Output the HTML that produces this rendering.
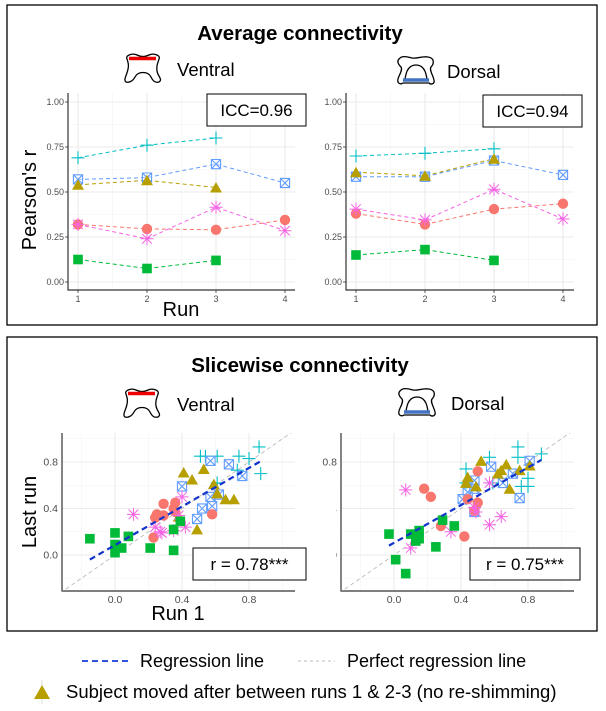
<!DOCTYPE html>
<html><head><meta charset="utf-8"><style>
body{margin:0;background:#fff;}
svg{display:block;font-family:"Liberation Sans",Arial,sans-serif;}
</style></head><body>
<svg id="fig" width="606" height="711" viewBox="0 0 606 711" xmlns="http://www.w3.org/2000/svg">
<defs>
<clipPath id="clipTR"><rect x="320" y="0" width="285" height="330"/></clipPath>
<clipPath id="clipBR"><path d="M317,330H606V630H336V490H317Z"/></clipPath>
<clipPath id="pTL"><rect x="68" y="93" width="227" height="197"/></clipPath>
<clipPath id="pTR"><rect x="346" y="93" width="228" height="197"/></clipPath>
<clipPath id="pBL"><rect x="62" y="433" width="233" height="158"/></clipPath>
<clipPath id="pBR"><rect x="341" y="433" width="233" height="158"/></clipPath>
</defs>
<rect x="7" y="5" width="590" height="320" fill="none" stroke="#000" stroke-width="1.3"/>
<rect x="7" y="337" width="590" height="294" fill="none" stroke="#000" stroke-width="1.3"/>
<text x="300" y="40" text-anchor="middle" font-size="20.5" font-weight="bold">Average connectivity</text>
<text x="300" y="372" text-anchor="middle" font-size="20.5" font-weight="bold">Slicewise connectivity</text>
<g id="icons"></g>
<g id="charts"></g>
<g>
<line x1="82" y1="661" x2="130" y2="661" stroke="#3355dd" stroke-width="2" stroke-dasharray="6,4"/>
<text x="140" y="667" font-size="18">Regression line</text>
<line x1="298" y1="661" x2="335" y2="661" stroke="#bbb" stroke-width="1" stroke-dasharray="3,3"/>
<text x="347" y="667" font-size="18">Perfect regression line</text>
<line x1="42" y1="680" x2="42" y2="704" stroke="#ddd" stroke-width="1"/>
<polygon points="34,699 42,685 50,699" fill="#B79F00"/>
<text x="66" y="698" font-size="18.5">Subject moved after between runs 1 &amp; 2-3 (no re-shimming)</text>
</g>
</svg>
<script>
// ---------- data ----------
const runs = [1, 2, 3, 4];
const groupColors = ["#00BFC4", "#619CFF", "#B79F00", "#F8766D", "#F564E3", "#00BA38"];
const groupShapes = ["plus", "boxx", "tri", "circle", "star", "square"];
const ventralAvg = [
  [0.69, 0.76, 0.80, null],
  [0.57, 0.58, 0.655, 0.55],
  [0.54, 0.565, 0.525, null],
  [0.32, 0.295, 0.29, 0.345],
  [0.32, 0.24, 0.415, 0.285],
  [0.125, 0.075, 0.12, null]
];
const dorsalAvg = [
  [0.70, 0.715, 0.74, null],
  [0.585, 0.585, 0.675, 0.595],
  [0.61, 0.59, 0.685, null],
  [0.38, 0.32, 0.405, 0.435],
  [0.405, 0.345, 0.515, 0.35],
  [0.15, 0.18, 0.12, null]
];
const avgYTicks = [0, 0.25, 0.5, 0.75, 1.0];
const avgYLabels = ["0.00", "0.25", "0.50", "0.75", "1.00"];
const iccLabels = ["ICC=0.96", "ICC=0.94"];

const ventralRun1 = [
  [0.51,0.54,0.61,0.74,0.80,0.86,0.87,0.73,0.61],
  [0.40,0.57,0.68,0.76,0.52,0.58,0.57,0.62,0.49],
  [0.41,0.53,0.46,0.59,0.66,0.71,0.49,0.38,0.61],
  [0.29,0.25,0.24,0.29,0.35,0.36,0.23,0.58,0.36],
  [0.11,0.40,0.24,0.28,0.35,0.42,0.38,0.27],
  [-0.15,0,0,0,0.04,0.08,0.21,0.35,0.39,0.35]
];
const ventralLast = [
  [0.85,0.85,0.85,0.85,0.83,0.93,0.70,0.73,0.62],
  [0.59,0.81,0.78,0.68,0.40,0.42,0.50,0.52,0.31],
  [0.71,0.74,0.65,0.61,0.48,0.48,0.22,0.33,0.53],
  [0.44,0.35,0.32,0.34,0.40,0.45,0.15,0.35,0.37],
  [0.35,0.50,0.24,0.19,0.21,0.24,0.34,0.20],
  [0.14,0.19,0.09,0.02,0.06,0.16,0.06,0.04,0.29,0.22]
];
const dorsalRun1 = [
  [0.43,0.57,0.74,0.74,0.88,0.80,0.80,0.76,0.59,0.43],
  [0.58,0.81,0.71,0.65,0.75,0.48,0.44,0.41,0.48,0.48],
  [0.52,0.67,0.64,0.62,0.75,0.81,0.69,0.44,0.43,0.49],
  [0.18,0.22,0.50,0.50,0.44,0.28,0.42,0.48],
  [0.07,0.10,0.34,0.48,0.57,0.64,0.57,0.49],
  [-0.03,0.10,0.15,0.15,0.13,0.29,0.36,0.25,0.01,0.07]
];
const dorsalLast = [
  [0.74,0.84,0.93,0.84,0.87,0.66,0.59,0.59,0.62,0.62],
  [0.76,0.81,0.70,0.62,0.49,0.64,0.54,0.48,0.57,0.37],
  [0.81,0.78,0.73,0.70,0.73,0.77,0.57,0.67,0.62,0.59],
  [0.57,0.50,0.72,0.45,0.48,0.25,0.16,0.38],
  [0.56,0.06,0.20,0.41,0.26,0.33,0.62,0.37],
  [0.18,0.18,0.21,0.14,0.12,0.30,0.25,0.07,-0.04,-0.16]
];
const regSlope = [0.83, 0.81];
const regIntercept = [0.085, 0.105];
const regRange = [[-0.15, 0.87], [-0.03, 0.88]];
const scatTicks = [0, 0.4, 0.8];
const scatLabels = ["0.0", "0.4", "0.8"];
const rLabels = ["r = 0.78***", "r = 0.75***"];

// ---------- helpers ----------
const NS = "http://www.w3.org/2000/svg";
function mk(tag, attrs, parent) {
  const e = document.createElementNS(NS, tag);
  for (const k in attrs) e.setAttribute(k, attrs[k]);
  parent.appendChild(e);
  return e;
}
function lin(d0, d1, r0, r1) { return v => r0 + (v - d0) * (r1 - r0) / (d1 - d0); }

function marker(g, shape, cx, cy, color) {
  const s = 4.6;
  let el;
  if (shape === "plus") {
    el = mk("path", {d:`M${cx-6.5},${cy}H${cx+6.5}M${cx},${cy-6.5}V${cy+6.5}`, stroke:color, "stroke-width":1.1, fill:"none"}, g);
  } else if (shape === "boxx") {
    el = mk("path", {d:`M${cx-s},${cy-s}h${2*s}v${2*s}h${-2*s}zM${cx-s},${cy-s}L${cx+s},${cy+s}M${cx+s},${cy-s}L${cx-s},${cy+s}`, stroke:color, "stroke-width":1.1, fill:"#fff", "fill-opacity":0.3}, g);
  } else if (shape === "tri") {
    el = mk("polygon", {points:`${cx-6},${cy+5} ${cx},${cy-5.5} ${cx+6},${cy+5}`, fill:color}, g);
  } else if (shape === "circle") {
    el = mk("circle", {cx:cx, cy:cy, r:5.2, fill:color}, g);
  } else if (shape === "star") {
    el = mk("path", {d:`M${cx-6.5},${cy}H${cx+6.5}M${cx},${cy-6.5}V${cy+6.5}M${cx-4.8},${cy-4.8}L${cx+4.8},${cy+4.8}M${cx+4.8},${cy-4.8}L${cx-4.8},${cy+4.8}`, stroke:color, "stroke-width":1, fill:"none"}, g);
  } else {
    el = mk("rect", {x:cx-4.8, y:cy-4.8, width:9.6, height:9.6, fill:color}, g);
  }
  
  
}

const charts = document.getElementById("charts");

// ---------- average plots ----------
function avgPlot(data, px0, px1, axX, axR, clip, labClip, icc, iccBox, name) {
  const g = mk("g", {}, charts);
  
  
  const x = lin(1, 4, px0, px1), y = lin(0, 1, 282, 102);
  const top = 93, bot = 290;
  for (let i = 0; i < 4; i++) mk("line", {x1:axX, x2:axR, y1:y(avgYTicks[i]+0.125), y2:y(avgYTicks[i]+0.125), stroke:"#f3f3f3", "stroke-width":0.6}, g);
  for (let i = 0; i < 3; i++) mk("line", {x1:x(runs[i]+0.5), x2:x(runs[i]+0.5), y1:top, y2:bot, stroke:"#f3f3f3", "stroke-width":0.6}, g);
  avgYTicks.forEach(t => mk("line", {x1:axX, x2:axR, y1:y(t), y2:y(t), stroke:"#ebebeb", "stroke-width":1.1}, g));
  runs.forEach(r => mk("line", {x1:x(r), x2:x(r), y1:top, y2:bot, stroke:"#ebebeb", "stroke-width":1.1}, g));
  const lg = mk("g", labClip ? {"clip-path":`url(#${labClip})`} : {}, g);
  avgYTicks.forEach((t, i) => {
    const tx = mk("text", {x:axX-4, y:y(t)+3, "text-anchor":"end", "font-size":9, fill:"#4d4d4d"}, lg);
    tx.textContent = avgYLabels[i];
    
    
    mk("line", {x1:axX-3, x2:axX, y1:y(t), y2:y(t), stroke:"#333", "stroke-width":0.8}, g);
  });
  runs.forEach(r => {
    const tx = mk("text", {x:x(r), y:bot+12, "text-anchor":"middle", "font-size":9, fill:"#4d4d4d"}, g);
    tx.textContent = r;
    
    
    mk("line", {x1:x(r), x2:x(r), y1:bot, y2:bot+3, stroke:"#333", "stroke-width":0.8}, g);
  });
  mk("path", {d:`M${axX},${top}V${bot}H${axR}`, stroke:"#333", "stroke-width":1.2, fill:"none"}, g);
  const pg = mk("g", {"clip-path":`url(#${clip})`}, g);
  data.forEach((ser, si) => {
    const pts = [];
    ser.forEach((v, i) => { if (v !== null) pts.push([x(runs[i]), y(v)]); });
    const ln = mk("polyline", {points:pts.map(p => p.join(",")).join(" "), fill:"none", stroke:groupColors[si], "stroke-width":1, "stroke-dasharray":"4,3"}, pg);
    
    
    pts.forEach(p => marker(g, groupShapes[si], p[0], p[1], groupColors[si]));
  });
  const b = mk("rect", {x:iccBox[0], y:iccBox[1], width:iccBox[2], height:iccBox[3], fill:"#fff", stroke:"#000", "stroke-width":1}, g);
  
  
  const t = mk("text", {x:iccBox[0]+iccBox[2]/2, y:iccBox[1]+iccBox[3]/2+6, "text-anchor":"middle", "font-size":17}, g);
  t.textContent = icc;
  
  
}
avgPlot(ventralAvg, 78, 285, 68, 295, "pTL", null, iccLabels[0], [207, 94, 99, 32], "ventral-average-chart");
avgPlot(dorsalAvg, 356, 563, 346, 574, "pTR", "clipTR", iccLabels[1], [483, 95, 99, 32], "dorsal-average-chart");

// ---------- scatter plots ----------
function scatPlot(r1, last, x0px, x4px, axX, axR, clip, labClip, k, rBox, name) {
  const g = mk("g", {}, charts);
  
  
  const x = lin(0, 0.4, x0px, x4px), y = lin(0, 0.8, 555, 462);
  const top = 433, bot = 591;
  [-0.2, 0.2, 0.6, 1.0].forEach(t => {
    mk("line", {x1:axX, x2:axR, y1:y(t), y2:y(t), stroke:"#f3f3f3", "stroke-width":0.6}, g);
    mk("line", {x1:x(t), x2:x(t), y1:top, y2:bot, stroke:"#f3f3f3", "stroke-width":0.6}, g);
  });
  scatTicks.forEach(t => {
    mk("line", {x1:axX, x2:axR, y1:y(t), y2:y(t), stroke:"#ebebeb", "stroke-width":1.1}, g);
    mk("line", {x1:x(t), x2:x(t), y1:top, y2:bot, stroke:"#ebebeb", "stroke-width":1.1}, g);
  });
  const lg = mk("g", labClip ? {"clip-path":`url(#${labClip})`} : {}, g);
  scatTicks.forEach((t, i) => {
    const a = mk("text", {x:axX-4, y:y(t)+3.5, "text-anchor":"end", "font-size":10.5, fill:"#4d4d4d"}, lg);
    a.textContent = scatLabels[i];
    
    
    const b = mk("text", {x:x(t), y:bot+12, "text-anchor":"middle", "font-size":10.5, fill:"#4d4d4d"}, g);
    b.textContent = scatLabels[i];
    
    
  });
  mk("path", {d:`M${axX},${top}V${bot}H${axR}`, stroke:"#333", "stroke-width":1.2, fill:"none"}, g);
  const pg = mk("g", {"clip-path":`url(#${clip})`}, g);
  const pl = mk("line", {x1:x(-0.5), y1:y(-0.5), x2:x(1.2), y2:y(1.2), stroke:"#bbb", "stroke-width":0.9, "stroke-dasharray":"4,3"}, pg);
  
  
  r1.forEach((ser, si) => ser.forEach((v, i) => marker(pg, groupShapes[si], x(v), y(last[si][i]), groupColors[si])));
  const [a, b] = regRange[k];
  const rl = mk("line", {x1:x(a), y1:y(regIntercept[k] + regSlope[k]*a), x2:x(b), y2:y(regIntercept[k] + regSlope[k]*b), stroke:"#1133cc", "stroke-width":2.2, "stroke-dasharray":"6,4"}, pg);
  
  
  const bx = mk("rect", {x:rBox[0], y:rBox[1], width:rBox[2], height:rBox[3], fill:"#fff", stroke:"#000", "stroke-width":1}, g);
  
  
  const t = mk("text", {x:rBox[0]+rBox[2]/2, y:rBox[1]+rBox[3]/2+6, "text-anchor":"middle", "font-size":17}, g);
  t.textContent = rLabels[k];
  
  
}
scatPlot(ventralRun1, ventralLast, 115, 182, 62, 295, "pBL", null, 0, [193, 548, 113, 32], "ventral-slicewise-chart");
scatPlot(dorsalRun1, dorsalLast, 394, 461, 341, 574, "pBR", "clipBR", 1, [470, 548, 110, 32], "dorsal-slicewise-chart");

function label(txt, xx, yy, size, rot, nm) {
  const t = mk("text", {x:xx, y:yy, "text-anchor":"middle", "font-size":size}, charts);
  if (rot) t.setAttribute("transform", `rotate(-90 ${xx} ${yy})`);
  t.textContent = txt;
  
  
}
label("Pearson's r", 36, 200, 20, true, "y-axis-title-average");
label("Run", 181, 316, 20, false, "x-axis-title-average");
label("Last run", 36, 512, 20, true, "y-axis-title-slicewise");
label("Run 1", 178, 620, 20, false, "x-axis-title-slicewise");

// icons
const icons = document.getElementById("icons");
const ventralPath = "M4,6 C2,2 10,0 14,2 C18,4 22,4 26,2 C30,0 38,2 36,6 C35,10 33,12 34,18 C35,24 40,26 36,29 C32,30 30,28 28,24 C25,18 15,18 12,24 C10,28 6,30 3,29 C0,27 4,22 5,16 C6,12 5,9 4,6 Z";
const dorsalPath = "M3,4 C6,0 12,2 16,3 C20,4 26,1 32,2 C39,3 38,9 35,12 C33,15 37,20 38,25 C39,29 35,30 33,28 L7,28 C4,30 1,28 2,24 C3,20 7,15 5,12 C2,9 1,6 3,4Z M9,25 C10,14 14,10 20,10 C26,10 30,14 31,25";
function icon(kind, tx, ty, lx, text) {
  const g = mk("g", {transform:`translate(${tx},${ty})`}, icons);
  
  
  mk("path", {d: kind === "ventral" ? ventralPath : dorsalPath, fill:"#fff", stroke:"#000", "stroke-width":1.3}, g);
  if (kind === "ventral") mk("line", {x1:6, y1:5.5, x2:33, y2:5.5, stroke:"#ee0000", "stroke-width":3.5}, g);
  else mk("line", {x1:7, y1:25, x2:33, y2:25, stroke:"#4472C4", "stroke-width":3.5}, g);
  const t = mk("text", {x:lx, y:ty+23, "font-size":18.5}, icons);
  t.textContent = text;
  
  
}
icon("ventral", 123, 53, 177, "Ventral");
icon("dorsal", 396, 55, 447, "Dorsal");
icon("ventral", 122, 388, 177, "Ventral");
icon("dorsal", 397, 387, 451, "Dorsal");
</script>
</body></html>
